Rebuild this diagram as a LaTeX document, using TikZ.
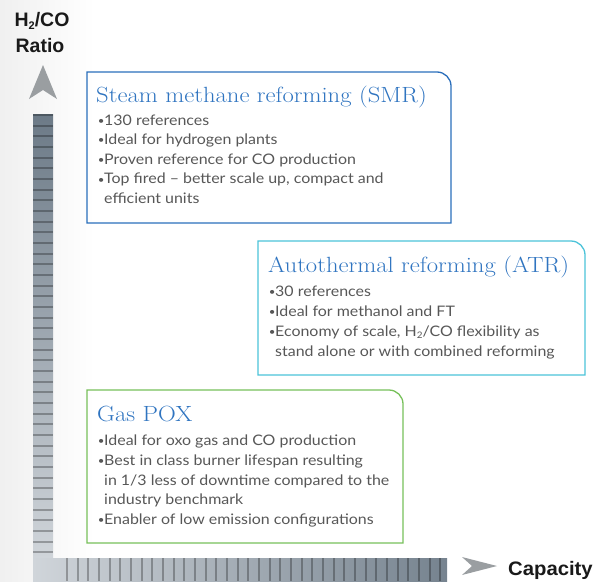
\documentclass[tikz,border=0pt]{standalone}
\usepackage{fontspec}
\setmainfont{Lato}
\newfontfamily\bodyfont[FakeStretch=1.1]{Lato}
\newfontfamily\hfont{Liberation Sans}
\definecolor{smrblue}{HTML}{2A6EBB}
\definecolor{titleblue}{HTML}{2F74C0}
\definecolor{atrcyan}{HTML}{4CC3D9}
\definecolor{poxgreen}{HTML}{77C05A}
\definecolor{bodygray}{HTML}{575757}
\definecolor{bartop}{HTML}{6C7A87}
\definecolor{barlight}{HTML}{D0D5DA}
\definecolor{barright}{HTML}{76838F}
\definecolor{arrowgray}{HTML}{9A9EA1}
\newcommand\bul{\makebox[7pt][l]{\hspace{0.6pt}\raisebox{0.12ex}{\scalebox{0.72}{•}}}}
\newcommand\ttltext[1]{\scalebox{1.12}[1]{#1}}
\tikzset{
  body/.style={font=\bodyfont\fontsize{14.5}{19.6}\selectfont, text=bodygray, align=left, inner sep=0pt, anchor=base west},
  ttl/.style={font=\fontfamily{lmr}\fontsize{22}{24}\selectfont, text=titleblue, inner sep=0pt, anchor=base west},
  axlabel/.style={font=\hfont\bfseries\fontsize{19.5}{24}\selectfont, text=black!90, inner sep=0pt},
  stripe/.style={black, opacity=0.28, line width=2pt},
  boxline/.style={line width=1.3pt}
}
\begin{document}
\begin{tikzpicture}[x=1pt,y=-1pt]
\useasboundingbox (0,0) rectangle (596,581);
\shade[left color=black!6, right color=white] (0,0) rectangle (95,581);
% axes bars
\shade[top color=bartop, bottom color=barlight] (33,114) rectangle (53,558);
\foreach \k in {0,...,41} {\draw[stripe] (33,115+10.67*\k) -- (53,115+10.67*\k);}
\shade[left color=barlight, right color=barright] (33,558) rectangle (447,581);
\foreach \k in {0,...,35} {\draw[stripe] (67+10.67*\k,558) -- (67+10.67*\k,581);}
% arrow heads
\fill[arrowgray] (43,65) -- (57,99) -- (43,90) -- (29,99) -- cycle;
\fill[arrowgray] (497,566) -- (462,575) -- (472,566) -- (462,557) -- cycle;
% axis labels
\node[axlabel] (ylab1) at (42,21) {H\raisebox{-0.35ex}{\fontsize{11}{12}\selectfont 2}/CO};
\node[axlabel] (ylab2) at (40,46) {Ratio};
\node[axlabel, anchor=base west] (xlab) at (508,575) {\scalebox{1.04}[1]{Capacity}};
% SMR box
\draw[boxline, smrblue] (87,223) -- (87,72) -- (437,72) arc(-90:0:14) -- (451,223) -- cycle;
\node[ttl] (smrt) at (96,102.7) {\ttltext{Steam methane reforming (SMR)}};
\node[body] (smrb) at (97,203.5) {\bul 130 references\\ \bul Ideal for hydrogen plants\\ \bul Proven reference for CO production\\ \bul Top fired – better scale up, compact and\\ \hspace*{7pt}efficient units};
% ATR box
\draw[boxline, atrcyan] (258,375) -- (258,241) -- (571,241) arc(-90:0:14) -- (585,375) -- cycle;
\node[ttl] (atrt) at (268,272.3) {\ttltext{Autothermal reforming (ATR)}};
\node[body, font=\bodyfont\fontsize{14.5}{20}\selectfont] (atrb) at (268,356) {\bul 30 references\\ \bul Ideal for methanol and FT\\ \bul Economy of scale, H\raisebox{-0.35ex}{\fontsize{9}{10}\selectfont 2}/CO flexibility as\\ \hspace*{7pt}stand alone or with combined reforming};
% POX box
\draw[boxline, poxgreen] (87,543) -- (87,390) -- (389,390) arc(-90:0:14) -- (403,543) -- cycle;
\node[ttl] (poxt) at (97,421.7) {\ttltext{Gas POX}};
\node[body, font=\bodyfont\fontsize{14.5}{19.7}\selectfont] (poxb) at (97,524.5) {\bul Ideal for oxo gas and CO production\\ \bul Best in class burner lifespan resulting\\ \hspace*{7pt}in 1/3 less of downtime compared to the\\ \hspace*{7pt}industry benchmark\\ \bul Enabler of low emission configurations};
\end{tikzpicture}
\end{document}
